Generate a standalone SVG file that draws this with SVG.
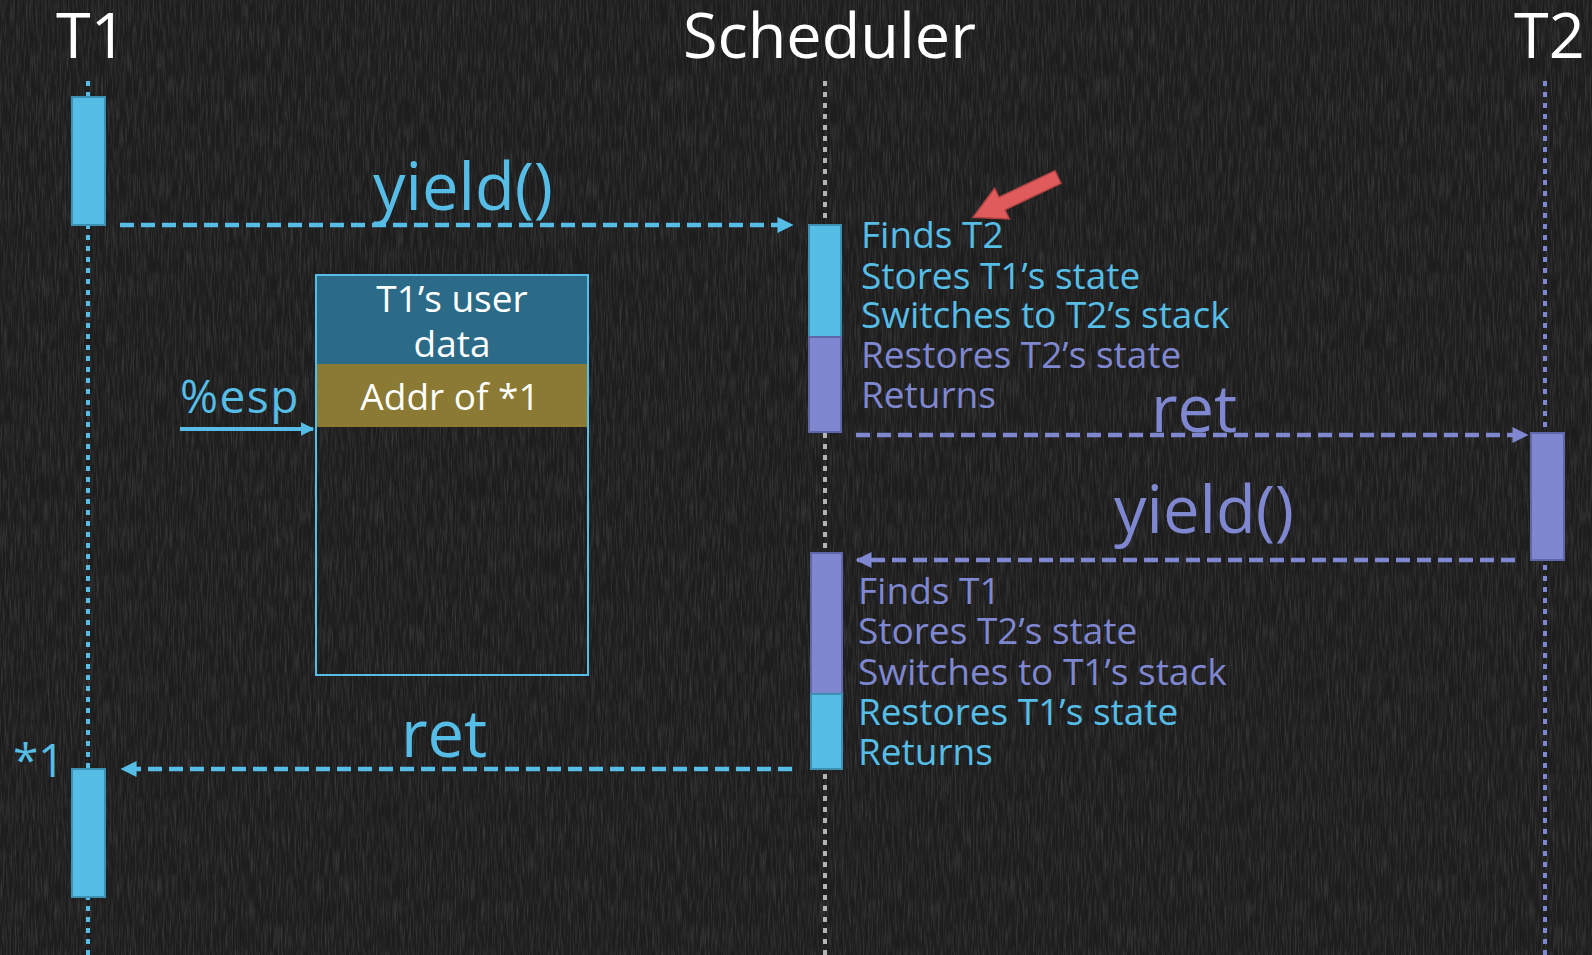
<svg xmlns="http://www.w3.org/2000/svg" width="1592" height="955" viewBox="0 0 1592 955">
  <defs>
    <!-- chalkboard grain -->
    <filter id="chalk" x="0" y="0" width="100%" height="100%">
      <feTurbulence type="fractalNoise" baseFrequency="0.6 0.04" numOctaves="3" seed="7" result="n"/>
      <feColorMatrix in="n" type="matrix" values="0 0 0 0 1  0 0 0 0 1  0 0 0 0 1  0.9 0 0 0 -0.36"/>
    </filter>
    <marker id="headBlue" viewBox="0 0 10 10" refX="9" refY="5" markerWidth="3.6" markerHeight="4" orient="auto-start-reverse" markerUnits="strokeWidth">
      <path d="M0,0 L10,5 L0,10 z" fill="#55bde6"/>
    </marker>
    <marker id="headPurple" viewBox="0 0 10 10" refX="9" refY="5" markerWidth="3.6" markerHeight="4" orient="auto-start-reverse" markerUnits="strokeWidth">
      <path d="M0,0 L10,5 L0,10 z" fill="#7f87d0"/>
    </marker>
    <marker id="headSolid" viewBox="0 0 10 10" refX="9" refY="5" markerWidth="3.4" markerHeight="3.6" orient="auto" markerUnits="strokeWidth">
      <path d="M0,0 L10,5 L0,10 z" fill="#55bde6"/>
    </marker>
  </defs>
  <style>
    text { font-family: "Open Sans", "Noto Sans", "Liberation Sans", sans-serif; }
    .title { fill: #ffffff; font-size: 63px; }
    .lifeline { fill: none; stroke-width: 4; stroke-dasharray: 5 6; }
    .ll-blue { stroke: #55bde6; }
    .ll-gray { stroke: #b4b4b4; }
    .ll-purple { stroke: #7f87d0; }
    .act-blue { fill: #55bde6; stroke: #3d8fb3; stroke-width: 2; }
    .act-purple { fill: #7f87d0; stroke: #5f67a8; stroke-width: 2; }
    .msg { fill: none; stroke-width: 4.5; stroke-dasharray: 14 7; }
    .msg-blue { stroke: #55bde6; }
    .msg-purple { stroke: #7f87d0; }
    .big { font-size: 65px; }
    .step { font-size: 37px; }
    .blue { fill: #55bde6; }
    .purple { fill: #7f87d0; }
    .cell { fill: #ffffff; font-size: 37px; text-anchor: middle; }
  </style>

  <!-- background -->
  <rect width="1592" height="955" fill="#1d1d1d"/>
  <rect width="1592" height="955" filter="url(#chalk)" opacity="0.28"/>

  <!-- headers -->
  <g id="header-t1"><text class="title" x="56" y="58">T1</text></g>
  <g id="header-scheduler"><text class="title" x="683" y="58">Scheduler</text></g>
  <g id="header-t2"><text class="title" x="1514" y="58">T2</text></g>

  <!-- lifelines -->
  <g id="lifelines">
    <line class="lifeline ll-blue" x1="88" y1="81" x2="88" y2="955"/>
    <line class="lifeline ll-gray" x1="825" y1="81" x2="825" y2="955"/>
    <line class="lifeline ll-purple" x1="1545" y1="81" x2="1545" y2="955"/>
  </g>

  <!-- activation bars -->
  <g id="t1-active-1"><rect class="act-blue" x="72" y="97" width="33" height="128"/></g>
  <g id="t1-active-2"><rect class="act-blue" x="72" y="769" width="33" height="128"/></g>
  <g id="sched-active-1">
    <rect class="act-blue" x="809" y="225" width="32" height="112"/>
    <rect class="act-purple" x="809" y="337" width="32" height="95"/>
  </g>
  <g id="sched-active-2">
    <rect class="act-purple" x="811" y="553" width="31" height="141"/>
    <rect class="act-blue" x="811" y="694" width="31" height="75"/>
  </g>
  <g id="t2-active"><rect class="act-purple" x="1531" y="433" width="33" height="127"/></g>

  <!-- messages -->
  <g id="connectors">
    <line class="msg msg-blue" x1="120" y1="225" x2="792" y2="225" marker-end="url(#headBlue)"/>
    <line class="msg msg-purple" x1="856" y1="435" x2="1527" y2="435" marker-end="url(#headPurple)"/>
    <line class="msg msg-purple" x1="1515" y1="560" x2="857" y2="560" marker-end="url(#headPurple)"/>
    <line class="msg msg-blue" x1="792" y1="769" x2="122" y2="769" marker-end="url(#headBlue)"/>
    <line stroke="#55bde6" stroke-width="4" x1="180" y1="429" x2="313" y2="429" marker-end="url(#headSolid)"/>
  </g>

  <!-- message labels -->
  <g id="label-yield-1"><text class="big blue" x="373" y="210">yield()</text></g>
  <g id="label-ret-1"><text class="big purple" x="1151" y="432">ret</text></g>
  <g id="label-yield-2"><text class="big purple" x="1114" y="533">yield()</text></g>
  <g id="label-ret-2"><text class="big blue" x="401" y="757">ret</text></g>
  <g id="label-star1"><text class="blue" font-size="46" x="13" y="777">*1</text></g>
  <g id="label-esp"><text class="blue" font-size="46" letter-spacing="1.5" x="180" y="413">%esp</text></g>

  <!-- scheduler steps, first switch -->
  <g id="steps-1">
    <text class="step blue" x="861" y="248">Finds T2</text>
    <text class="step blue" x="861" y="289">Stores T1’s state</text>
    <text class="step blue" x="861" y="328">Switches to T2’s stack</text>
    <text class="step purple" x="861" y="368">Restores T2’s state</text>
    <text class="step purple" x="861" y="408">Returns</text>
  </g>

  <!-- scheduler steps, second switch -->
  <g id="steps-2">
    <text class="step purple" x="858" y="604">Finds T1</text>
    <text class="step purple" x="858" y="644">Stores T2’s state</text>
    <text class="step purple" x="858" y="685">Switches to T1’s stack</text>
    <text class="step blue" x="858" y="725">Restores T1’s state</text>
    <text class="step blue" x="858" y="765">Returns</text>
  </g>

  <!-- T1 stack -->
  <g id="stack">
    <rect x="316" y="275" width="272" height="89" fill="#2b6b88"/>
    <rect x="316" y="364" width="272" height="63" fill="#8a7a34"/>
    <rect x="316" y="275" width="272" height="400" fill="none" stroke="#55bde6" stroke-width="2"/>
    <text class="cell" x="452" y="312">T1’s user</text>
    <text class="cell" x="452" y="357">data</text>
    <text class="cell" x="450" y="410">Addr of *1</text>
  </g>

  <!-- highlight pointer -->
  <g id="pointer">
    <polygon transform="translate(1058,177) rotate(154.6)" points="0,-7 62,-7 62,-17 94,0 62,17 62,7 0,7" fill="#e05c5c" stroke="#b24444" stroke-width="1.5"/>
  </g>
</svg>
